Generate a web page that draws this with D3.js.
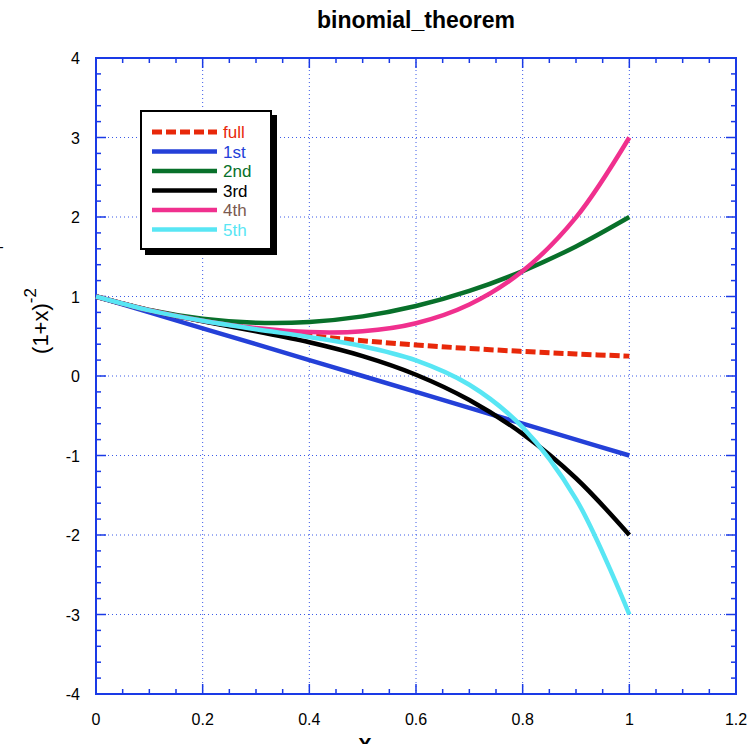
<!DOCTYPE html>
<html>
<head>
<meta charset="utf-8">
<script src="https://cdn.jsdelivr.net/npm/d3@7"></script>
<style>
  body { margin: 0; background: #fff; }
  svg { display: block; font-family: "Liberation Sans", Arial, sans-serif; }
</style>
</head>
<body>
<div id="chart"></div>
<script>
// valeurs, x de 0 a 1 par pas de 0.1
const xValues = [0, 0.1, 0.2, 0.3, 0.4, 0.5, 0.6, 0.7, 0.8, 0.9, 1.0];
const fullValues = [1, 0.826, 0.694, 0.592, 0.510, 0.444, 0.391, 0.346, 0.309, 0.277, 0.25];
const firstValues = [1, 0.8, 0.6, 0.4, 0.2, 0, -0.2, -0.4, -0.6, -0.8, -1];
const secondValues = [1, 0.83, 0.72, 0.67, 0.68, 0.75, 0.88, 1.07, 1.32, 1.63, 2];
const thirdValues = [1, 0.826, 0.688, 0.562, 0.424, 0.25, 0.016, -0.302, -0.728, -1.286, -2];
const fourthValues = [1, 0.827, 0.696, 0.603, 0.552, 0.563, 0.664, 0.899, 1.32, 1.995, 3];
const fifthValues = [1, 0.826, 0.694, 0.588, 0.491, 0.375, 0.197, -0.110, -0.646, -1.548, -3];

const seriesNames = ["full", "1st", "2nd", "3rd", "4th", "5th"];
const xTicks = [0, 0.2, 0.4, 0.6, 0.8, 1, 1.2];
const yTicks = [-4, -3, -2, -1, 0, 1, 2, 3, 4];

const width = 750, height = 744;
const margin = { top: 58, right: 14, bottom: 50, left: 96 };
const w = width - margin.left - margin.right;
const h = height - margin.top - margin.bottom;
const axisColor = "#1a3ae6";

const series = [
    { name: seriesNames[0], values: fullValues, color: "#e8280a", text: "#e8280a", dash: "10,4", width: 5 },
    { name: seriesNames[1], values: firstValues, color: "#2440d8", text: "#2440d8", dash: null, width: 4.5 },
    { name: seriesNames[2], values: secondValues, color: "#08702a", text: "#08702a", dash: null, width: 4.5 },
    { name: seriesNames[3], values: thirdValues, color: "#000000", text: "#000000", dash: null, width: 4.5 },
    { name: seriesNames[4], values: fourthValues, color: "#f0308e", text: "#7a5a50", dash: null, width: 4.5 },
    { name: seriesNames[5], values: fifthValues, color: "#58e6f4", text: "#58e6f4", dash: null, width: 4.5 }
];

const svg = d3.select("#chart").append("svg")
    .attr("width", width).attr("height", height);

const g = svg.append("g").attr("transform", `translate(${margin.left},${margin.top})`);

const x = d3.scaleLinear().domain([0, 1.2]).range([0, w]);
const y = d3.scaleLinear().domain([-4, 4]).range([h, 0]);

// grille en pointilles
g.append("g").selectAll("line").data(xTicks.slice(1, -1)).join("line")
    .attr("x1", d => x(d)).attr("x2", d => x(d))
    .attr("y1", 0).attr("y2", h)
    .attr("stroke", "#3a5ae8").attr("stroke-width", 1)
    .attr("stroke-dasharray", "1,3");
g.append("g").selectAll("line").data(yTicks.slice(1, -1)).join("line")
    .attr("x1", 0).attr("x2", w)
    .attr("y1", d => y(d)).attr("y2", d => y(d))
    .attr("stroke", "#3a5ae8").attr("stroke-width", 1)
    .attr("stroke-dasharray", "1,3");

// graduations mineures et majeures, vers l'interieur sur les quatre cotes
const xMinor = d3.range(0, 1.2001, 0.05);
const yMinor = d3.range(-4, 4.001, 0.2);
function tickLen(v, step) { return Math.abs(v / step - Math.round(v / step)) < 1e-6 ? 10 : 5; }

const ticks = g.append("g").attr("stroke", axisColor).attr("stroke-width", 1.5);
xMinor.forEach(v => {
    const l = tickLen(v, 0.2);
    ticks.append("line").attr("x1", x(v)).attr("x2", x(v)).attr("y1", h).attr("y2", h - l);
    ticks.append("line").attr("x1", x(v)).attr("x2", x(v)).attr("y1", 0).attr("y2", l);
});
yMinor.forEach(v => {
    const l = tickLen(v, 1);
    ticks.append("line").attr("x1", 0).attr("x2", l).attr("y1", y(v)).attr("y2", y(v));
    ticks.append("line").attr("x1", w).attr("x2", w - l).attr("y1", y(v)).attr("y2", y(v));
});

// cadre
g.append("rect").attr("x", 0).attr("y", 0).attr("width", w).attr("height", h)
    .attr("fill", "none").attr("stroke", axisColor).attr("stroke-width", 2);

// etiquettes des axes
g.append("g").selectAll("text").data(xTicks).join("text")
    .attr("x", d => x(d)).attr("y", h + 31)
    .attr("text-anchor", "middle").attr("font-size", 16).attr("fill", "#000")
    .text(d => d3.format("~g")(d));
g.append("g").selectAll("text").data(yTicks).join("text")
    .attr("x", -16).attr("y", d => y(d) + 6)
    .attr("text-anchor", "end").attr("font-size", 16).attr("fill", "#000")
    .text(d => d);

// courbes
const line = d3.line()
    .x((d, i) => x(xValues[i]))
    .y(d => y(d))
    .curve(d3.curveCatmullRom);

const curves = g.append("g").attr("fill", "none").attr("stroke-linecap", "butt");
series.forEach(s => {
    curves.append("path")
        .attr("d", line(s.values))
        .attr("stroke", s.color)
        .attr("stroke-width", s.width)
        .attr("stroke-dasharray", s.dash);
});

// legende
const lg = svg.append("g").attr("transform", "translate(140,110)");
lg.append("rect").attr("x", 5).attr("y", 5).attr("width", 132).attr("height", 140).attr("fill", "#000");
lg.append("rect").attr("x", 1).attr("y", 1).attr("width", 130).attr("height", 138)
    .attr("fill", "#fff").attr("stroke", "#000").attr("stroke-width", 2);
series.forEach((s, i) => {
    const yy = 22 + i * 19.5;
    lg.append("line").attr("x1", 12).attr("x2", 77).attr("y1", yy).attr("y2", yy)
        .attr("stroke", s.color).attr("stroke-width", s.width).attr("stroke-dasharray", s.dash);
    lg.append("text").attr("x", 83).attr("y", yy + 6)
        .attr("font-size", 17).attr("fill", s.text).text(s.name);
});

// titre et libelles
svg.append("text").attr("x", 416).attr("y", 28)
    .attr("text-anchor", "middle").attr("font-size", 23).attr("font-weight", "bold")
    .text("binomial_theorem");

const yl = svg.append("text")
    .attr("transform", "translate(48,321) rotate(-90)")
    .attr("text-anchor", "middle").attr("font-size", 22);
yl.append("tspan").text("(1+x)");
yl.append("tspan").attr("dy", -12).attr("font-size", 17).text("-2");

svg.append("text").attr("x", -1).attr("y", 252).attr("font-size", 14).text("-");

svg.append("text").attr("x", 365).attr("y", 752)
    .attr("text-anchor", "middle").attr("font-size", 20).attr("font-weight", "bold")
    .text("X");
</script>
</body>
</html>
